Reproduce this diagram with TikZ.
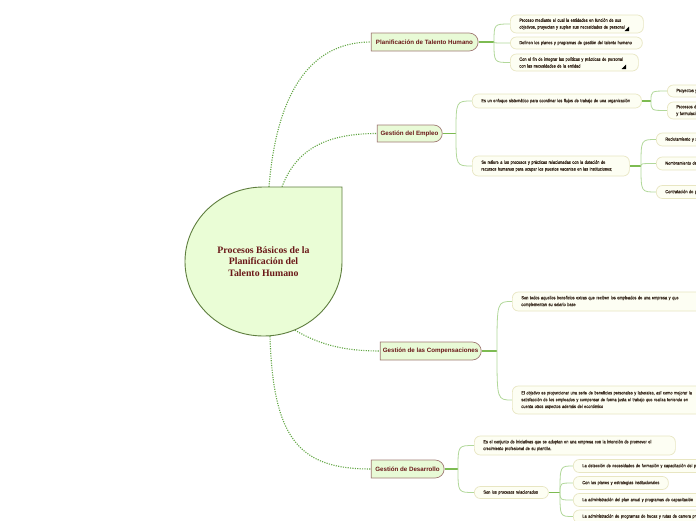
\documentclass[tikz,border=0pt]{standalone}
\usepackage{fontspec}
\setmainfont{Liberation Serif}
\newfontfamily\childfont[FakeStretch=0.85,FakeBold=0.6]{Liberation Sans}
\newfontfamily\branchfont{Liberation Sans}
\usetikzlibrary{shapes.misc,backgrounds}
\definecolor{cfill}{HTML}{EAFDD6}
\definecolor{cborder}{HTML}{5E7D3E}
\definecolor{bfill}{HTML}{E8FAD6}
\definecolor{bborder}{HTML}{A07A74}
\definecolor{redtext}{HTML}{6A1818}
\definecolor{kfill}{HTML}{FDFEF3}
\definecolor{kborder}{HTML}{E8E6C2}
\definecolor{ktext}{HTML}{3A2C20}
\definecolor{dotgreen}{HTML}{62A744}
\definecolor{trunkgreen}{HTML}{7DBB52}
\definecolor{linegreen}{HTML}{B2D89A}
\newcommand{\kline}[1]{\mbox{#1}}
\begin{document}
\begin{tikzpicture}[x=1pt,y=-1pt,
  centerbox/.style={rectangle, minimum width=157pt, minimum height=149pt, inner sep=0pt, align=center, text=redtext, font=\bfseries\fontsize{9.8}{11.5}\selectfont},
  branchbox/.style={rounded rectangle, rounded rectangle left arc=none, draw=bborder, fill=bfill, line width=0.7pt, inner xsep=5pt, inner ysep=0pt, text=redtext, font=\branchfont\bfseries\fontsize{6.2}{7}\selectfont},
  kidbox/.style={rectangle, rounded corners=6pt, draw=kborder, fill=kfill, line width=0.7pt, anchor=west, inner xsep=9pt, inner ysep=1pt, align=left, text=ktext, font=\childfont\fontsize{4.6}{6.8}\selectfont},
  dotlink/.style={draw=dotgreen, line width=1.1pt, dash pattern=on 1.1pt off 1.3pt},
  trunk/.style={draw=trunkgreen, line width=1.6pt},
  twig/.style={draw=linegreen, line width=0.8pt},
  noteicon/.style={fill=black}
]
\useasboundingbox (0,0) rectangle (696,520);
\clip (0,0) rectangle (696,520);

% central teardrop
\draw[fill=cfill, draw=cborder, line width=0.9pt]
  (263.5,187) -- (342,187) -- (342,261.5)
  .. controls (342,302.6) and (306.9,336) .. (263.5,336)
  .. controls (220.1,336) and (185,302.6) .. (185,261.5)
  .. controls (185,220.4) and (220.1,187) .. (263.5,187) -- cycle;
\node[centerbox] (C) at (263.5,261.5) {Procesos Básicos de la\\Planificación del\\Talento Humano};

% branches
\node[branchbox, minimum width=117pt, minimum height=18pt] (B1) at (424.5,42) {Planificación de Talento Humano};
\node[branchbox, minimum width=75pt, minimum height=17pt] (B2) at (409.5,133.5) {Gestión del Empleo};
\node[branchbox, minimum width=111pt, minimum height=18pt] (B3) at (430.5,351) {Gestión de las Compensaciones};
\node[branchbox, minimum width=83pt, minimum height=18pt] (B4) at (407.5,469) {Gestión de Desarrollo};

% junctions
\coordinate (J1) at (494,42);
\coordinate (J2) at (456,133.5);
\coordinate (J3) at (497,351);
\coordinate (J4) at (458,469);
\coordinate (JE1) at (651,101);
\coordinate (JE2) at (641,166);
\coordinate (JD2) at (560,492.5);

% children of B1
\node[kidbox, text width=115pt, minimum height=18pt] (C1a) at (510,24) {\kline{Proceso mediante el cual la entidades en función de sus}\\\kline{objetivos, proyectan y suplen sus necesidades de personal}};
\node[kidbox, text width=114pt, minimum height=12pt] (C1b) at (510,43) {\kline{Definen los planes y programas de gestión del talento humano}};
\node[kidbox, text width=110pt, minimum height=17pt] (C1c) at (510,62.5) {\kline{Con el fin de integrar las políticas y prácticas de personal}\\\kline{con las necesidades de la entidad}};
\fill[noteicon] (624.5,31) -- (629,31) -- (629,26.5) -- cycle;
\fill[noteicon] (621.5,69) -- (626,69) -- (626,64.5) -- cycle;

% children of B2
\node[kidbox, text width=151pt, minimum height=14pt] (E1) at (472,101) {\kline{Es un enfoque sistemático para coordinar los flujos de trabajo de una organización}};
\node[kidbox, text width=139pt, minimum height=20pt] (E2) at (472,166) {\kline{Se refiere a los procesos y prácticas relacionadas con la dotación de}\\\kline{recursos humanos para ocupar los puestos vacantes en las instituciones;}};
\node[kidbox, text width=70pt, minimum height=12pt] (E1a) at (667,91) {\kline{Proyectos y programas}};
\node[kidbox, text width=70pt, minimum height=17pt] (E1b) at (667,110.5) {\kline{Procesos de}\\\kline{y formulación}};
\node[kidbox, text width=80pt, minimum height=13pt] (E2a) at (656,139.5) {\kline{Reclutamiento y selección}};
\node[kidbox, text width=80pt, minimum height=13pt] (E2b) at (656,163.5) {\kline{Nombramiento de personal}};
\node[kidbox, text width=80pt, minimum height=13pt] (E2c) at (656,192) {\kline{Contratación de personal}};

% children of B3
\node[kidbox, text width=222pt, minimum height=19pt] (K1) at (512,301.5) {\kline{Son todos aquellos beneficios extras que reciben los empleados de una empresa y que}\\\kline{complementan su salario base}};
\node[kidbox, text width=240pt, minimum height=28pt] (K2) at (512,400) {\kline{El objetivo es proporcionar una serie de beneficios personales y laborales, así como mejorar la}\\\kline{satisfacción de los empleados y compensar de forma justa el trabajo que realiza teniendo en}\\\kline{cuenta otros aspectos además del económico}};

% children of B4
\node[kidbox, text width=183pt, minimum height=19pt] (D1) at (474,445.5) {\kline{Es el conjunto de iniciativas que se adoptan en una empresa con la intención de promover el}\\\kline{crecimiento profesional de su plantilla.}};
\node[kidbox, text width=56pt, minimum height=12pt] (D2) at (474,492.5) {\kline{Son los procesos relacionados}};
\node[kidbox, text width=150pt, minimum height=13pt] (D2a) at (573,466) {\kline{La detección de necesidades de formación y capacitación del personal}};
\node[kidbox, text width=77pt, minimum height=13pt] (D2b) at (573,483) {\kline{Con los planes y estrategias institucionales}};
\node[kidbox, text width=150pt, minimum height=13pt] (D2c) at (573,500) {\kline{La administración del plan anual y programas de capacitación}};
\node[kidbox, text width=150pt, minimum height=13pt] (D2d) at (573,516.5) {\kline{La administración de programas de becas y rutas de carrera profesional}};

\begin{scope}[on background layer]
\fill[white] (0,0) rectangle (696,520);
% dotted links from centre
\draw[dotlink] ([xshift=5.5pt]C.north) .. controls (276,100) and (306,42) .. (B1.west);
\draw[dotlink] ([xshift=18.5pt]C.north) .. controls (296,150) and (325,133.5) .. (B2.west);
\draw[dotlink] ([xshift=31.5pt,yshift=6pt]C.south) .. controls (320,345) and (345,351) .. (B3.west);
\draw[dotlink] ([xshift=6.5pt]C.south) .. controls (273,440) and (300,469) .. (B4.west);
% trunks
\draw[trunk] (B1.east) -- (J1);
\draw[trunk] (B2.east) -- (J2);
\draw[trunk] (B3.east) -- (J3);
\draw[trunk] (B4.east) -- (J4);
\draw[trunk] (E1.east) -- (JE1);
\draw[trunk] (E2.east) -- (JE2);
\draw[trunk] (D2.east) -- (JD2);
% twigs
\foreach \j/\c in {J1/C1a, J1/C1b, J1/C1c, J2/E1, J2/E2, JE1/E1a, JE1/E1b, JE2/E2a, JE2/E2b, JE2/E2c, J3/K1, J3/K2, J4/D1, J4/D2, JD2/D2a, JD2/D2b, JD2/D2c, JD2/D2d}
  \draw[twig] (\j) .. controls (\j |- \c.west) .. (\c.west);
\end{scope}
\end{tikzpicture}
\end{document}
